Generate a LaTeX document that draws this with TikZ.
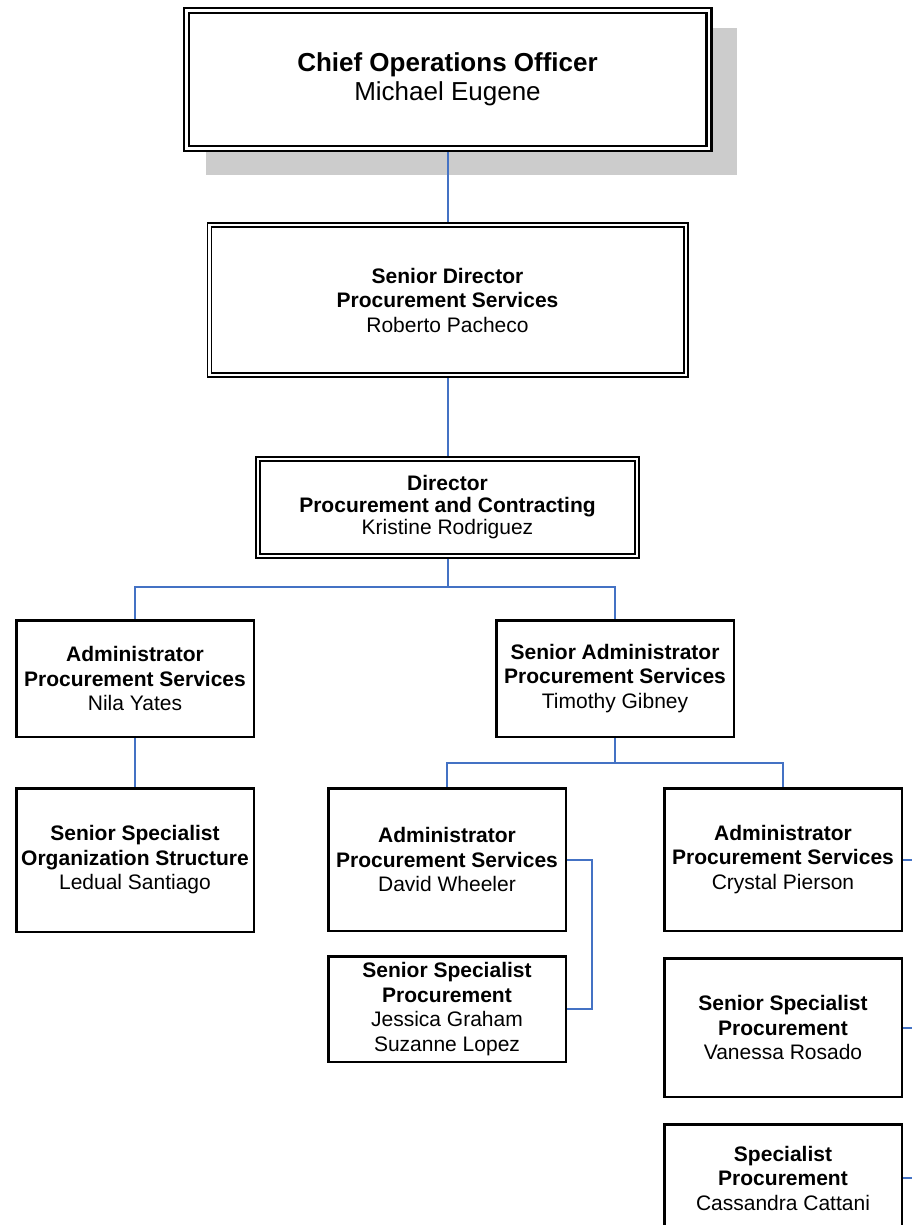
\documentclass[tikz,border=0pt]{standalone}
\usepackage{fontspec}
\setmainfont{Liberation Sans}
\usetikzlibrary{backgrounds}
\definecolor{linkblue}{RGB}{68,114,196}
\definecolor{shadowgray}{RGB}{204,204,204}

\tikzset{
  orgbox/.style={draw=black, line width=2.5pt, fill=white, align=center,
    inner sep=0pt, font=\fontsize{21}{24.5}\selectfont},
  staffbox/.style={orgbox, minimum width=237.5pt},
  dblbox/.style={orgbox, line width=1.6pt, double=white, double distance=2.4pt},
  topbox/.style={dblbox, line width=2.2pt, double distance=2.8pt,
    font=\fontsize{26}{28.5}\selectfont},
  link/.style={draw=linkblue, line width=2pt},
}

\begin{document}
\begin{tikzpicture}[x=1pt, y=-1pt]
  \useasboundingbox (0,0) rectangle (912,1225);
  \clip (0,0) rectangle (912,1225);

  % Management line
  \node[topbox, minimum width=522.8pt, minimum height=137.8pt] (coo) at (447.5,79.5)
    {\textbf{Chief Operations Officer}\\Michael Eugene};
  \node[dblbox, minimum width=476.4pt, minimum height=150.4pt] (sdir) at (447.5,300)
    {\textbf{Senior Director}\\\textbf{Procurement Services}\\Roberto Pacheco};
  \node[dblbox, minimum width=379.4pt, minimum height=97.4pt,
    font=\fontsize{21}{22}\selectfont] (dir) at (447.5,507.5)
    {\textbf{Director}\\\textbf{Procurement and Contracting}\\Kristine Rodriguez};

  % Second level
  \node[staffbox, minimum height=116.5pt] (adm1) at (135,678.5)
    {\textbf{Administrator}\\\textbf{Procurement Services}\\Nila Yates};
  \node[staffbox, minimum height=116.5pt] (sadm) at (615,678.5)
    {\textbf{Senior Administrator}\\\textbf{Procurement Services}\\Timothy Gibney};

  % Third level
  \node[staffbox, minimum height=143.5pt] (spec1) at (135,860)
    {\textbf{Senior Specialist}\\\textbf{Organization Structure}\\Ledual Santiago};
  \node[staffbox, minimum height=142.5pt] (adm2) at (447,859.5)
    {\textbf{Administrator}\\\textbf{Procurement Services}\\David Wheeler};
  \node[staffbox, minimum height=142.5pt] (adm3) at (783,859.5)
    {\textbf{Administrator}\\\textbf{Procurement Services}\\Crystal Pierson};

  % Specialists
  \node[staffbox, minimum height=105.5pt] (sspec2) at (447,1009)
    {\textbf{Senior Specialist}\\\textbf{Procurement}\\Jessica Graham\\Suzanne Lopez};
  \node[staffbox, minimum height=138.5pt] (sspec3) at (783,1027.5)
    {\textbf{Senior Specialist}\\\textbf{Procurement}\\Vanessa Rosado};
  \node[staffbox, minimum height=107.5pt] (spec3) at (783,1178)
    {\textbf{Specialist}\\\textbf{Procurement}\\Cassandra Cattani};

  % Bus points
  \coordinate (busA) at (447.5,587);
  \coordinate (busB) at (615,763);
  \coordinate (dbus) at (592,0);
  \coordinate (rbus) at (918,0);

  \begin{scope}[on background layer]
    % Shadow of the top box
    \fill[shadowgray] (206,28) rectangle (737,175);
    % Connectors
    \draw[link] (coo.south) -- (sdir.north);
    \draw[link] (sdir.south) -- (dir.north);
    \draw[link] (dir.south) -- (busA);
    \draw[link] (adm1.north) |- (busA) -| (sadm.north);
    \draw[link] (adm1.south) -- (spec1.north);
    \draw[link] (sadm.south) -- (busB);
    \draw[link] (adm2.north) |- (busB) -| (adm3.north);
    \draw[link] (adm2.east) -| (dbus |- sspec2.east) -- (sspec2.east);
    \draw[link] (adm3.east) -- (adm3.east -| rbus) -- (spec3.east -| rbus) -- (spec3.east);
    \draw[link] (sspec3.east) -- (sspec3.east -| rbus);
  \end{scope}
\end{tikzpicture}
\end{document}
